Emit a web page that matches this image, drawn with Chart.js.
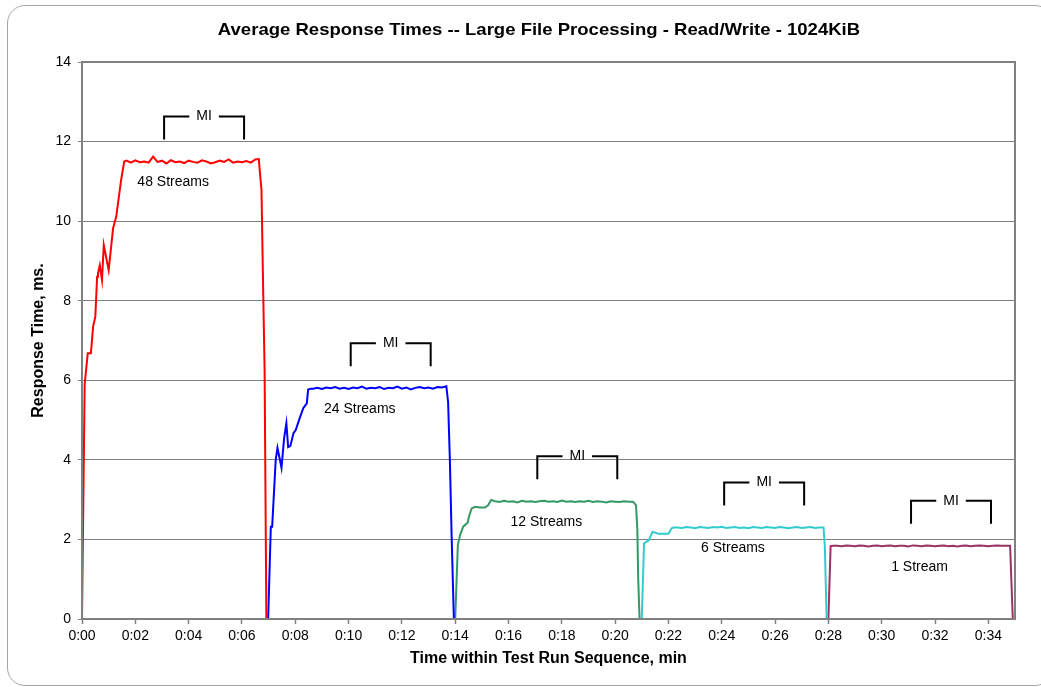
<!DOCTYPE html>
<html>
<head>
<meta charset="utf-8">
<title>Average Response Times</title>
<script src="https://cdn.jsdelivr.net/npm/chart.js@4.4.1/dist/chart.umd.min.js"></script>
<style>
  html, body { margin: 0; padding: 0; background: #fff; overflow: hidden; }
  #wrap { position: relative; width: 1041px; height: 687px; overflow: hidden; }
  #frame {
    position: absolute; left: 7px; top: 5px; width: 1046px; height: 681px;
    border: 1.5px solid #a6a6a6; border-radius: 18px; box-sizing: border-box;
  }
  canvas { position: absolute; left: 0; top: 0; }
</style>
</head>
<body>
<div id="wrap">
  <div id="frame"></div>
  <canvas id="grafico" width="1041" height="687"></canvas>
</div>
<script>
// [seconds into run, response time ms]
const streams48 = [
  [0,0],[6,5.9],[13,6.68],[20,6.68],[25,7.35],[30,7.6],[34,8.6],[36,8.69],[40,8.89],[45,8.52],
  [49,9.4],[60,8.77],[70,9.82],[77,10.11],[88,11.03],[95,11.5],
  [100,11.52],[110,11.47],[120,11.53],[130,11.48],[140,11.5],[150,11.47],[160,11.62],[170,11.49],
  [180,11.52],[190,11.45],[200,11.53],[210,11.48],[220,11.5],[230,11.46],[240,11.52],[250,11.49],
  [260,11.47],[270,11.53],[280,11.5],[290,11.45],[300,11.48],[310,11.52],[320,11.49],[330,11.55],
  [340,11.47],[350,11.5],[360,11.48],[370,11.51],[380,11.47],[390,11.55],[398,11.56],
  [400,11.28],[404,10.78],[407,8.77],[411,6.26],[415,0]
];
const streams24 = [
  [419,0],[425,2.32],[428,2.32],[436,4.0],[440,4.3],[449,3.8],[455,4.55],[460,4.92],[464,4.32],
  [469,4.35],[476,4.67],[481,4.75],[491,5.08],[498,5.3],[506,5.42],[509,5.77],[515,5.79],
  [520,5.79],[530,5.81],[540,5.78],[550,5.82],[560,5.8],[570,5.83],[580,5.79],[590,5.81],
  [600,5.78],[610,5.82],[620,5.8],[630,5.84],[640,5.79],[650,5.81],[660,5.8],[670,5.83],
  [680,5.78],[690,5.81],[700,5.8],[710,5.84],[720,5.79],[730,5.82],[740,5.77],[750,5.81],
  [760,5.83],[770,5.8],[780,5.82],[790,5.79],[800,5.83],[810,5.82],[820,5.85],
  [824,5.46],[828,4.0],[832,2.07],[837,0]
];
const streams12 = [
  [840,0],[846,1.86],[851,2.11],[858,2.32],[868,2.42],[871,2.57],[877,2.78],[885,2.82],
  [895,2.8],[907,2.8],[914,2.86],[921,2.99],
  [930,2.96],[940,2.94],[950,2.97],[960,2.95],[970,2.96],[980,2.93],[990,2.97],[1000,2.95],
  [1010,2.96],[1020,2.94],[1030,2.96],[1040,2.97],[1050,2.95],[1060,2.96],[1070,2.94],[1080,2.98],
  [1090,2.95],[1100,2.96],[1110,2.94],[1120,2.96],[1130,2.95],[1140,2.97],[1150,2.94],[1160,2.96],
  [1170,2.95],[1180,2.93],[1190,2.96],[1200,2.95],[1210,2.94],[1220,2.96],[1230,2.95],[1240,2.95],
  [1247,2.86],[1250,2.24],[1252,0.98],[1255,0]
];
const streams6 = [
  [1260,0],[1265,1.9],[1270,1.94],[1276,1.98],[1284,2.19],[1291,2.17],[1297,2.14],[1320,2.14],
  [1327,2.28],[1332,2.3],
  [1340,2.3],[1350,2.29],[1360,2.31],[1370,2.3],[1380,2.28],[1390,2.31],[1400,2.3],[1410,2.29],
  [1420,2.31],[1430,2.3],[1440,2.32],[1450,2.29],[1460,2.3],[1470,2.31],[1480,2.29],[1490,2.3],
  [1500,2.28],[1510,2.31],[1520,2.3],[1530,2.29],[1540,2.31],[1550,2.3],[1560,2.29],[1570,2.31],
  [1580,2.3],[1590,2.28],[1600,2.3],[1610,2.31],[1620,2.29],[1630,2.3],[1640,2.31],[1650,2.29],
  [1660,2.3],[1669,2.3],
  [1672,1.82],[1676,0]
];
const streams1 = [
  [1680,0],[1685,1.83],[1690,1.84],
  [1700,1.84],[1710,1.83],[1720,1.85],[1730,1.84],[1740,1.83],[1750,1.85],[1760,1.84],[1770,1.82],
  [1780,1.84],[1790,1.85],[1800,1.83],[1810,1.84],[1820,1.85],[1830,1.83],[1840,1.84],[1850,1.84],
  [1860,1.82],[1870,1.85],[1880,1.84],[1890,1.83],[1900,1.85],[1910,1.84],[1920,1.83],[1930,1.84],
  [1940,1.85],[1950,1.83],[1960,1.84],[1970,1.82],[1980,1.84],[1990,1.85],[2000,1.83],[2010,1.84],
  [2020,1.85],[2030,1.84],[2040,1.83],[2050,1.84],[2060,1.85],[2070,1.84],[2080,1.84],
  [2089,1.84],[2095,0]
];

const streamLabels = ['48 Streams', '24 Streams', '12 Streams', '6 Streams', '1 Stream'];
const segmentStart = [0, 7, 14, 21, 28];            // min
const plateauMs    = [11.5, 5.8, 2.96, 2.3, 1.84];  // steady level of each run
const miWindows    = [[3.08, 6.08], [10.08, 13.08], [17.08, 20.08], [24.09, 27.09], [31.1, 34.1]];
const yTicks = [0, 2, 4, 6, 8, 10, 12, 14];
const xTicks = [0, 2, 4, 6, 8, 10, 12, 14, 16, 18, 20, 22, 24, 26, 28, 30, 32, 34];

const chartTitle = 'Average Response Times -- Large File Processing - Read/Write - 1024KiB';
const FONT = '"Liberation Sans", Arial, sans-serif';
const cores = ['#FF0000', '#0000FF', '#339966', '#33CCCC', '#993366'];

const series = [streams48, streams24, streams12, streams6, streams1];

const overlay = {
  id: 'overlay',
  afterDraw(chart) {
    const { ctx, chartArea: a, scales: { x, y } } = chart;
    ctx.save();
    ctx.strokeStyle = '#808080';
    ctx.lineWidth = 2;
    ctx.strokeRect(a.left, a.top, a.right - a.left, a.bottom - a.top);

    ctx.fillStyle = '#000';
    ctx.textAlign = 'center';
    ctx.textBaseline = 'middle';

    // titulo: fonte um pouco esticada na horizontal, como no original
    ctx.save();
    ctx.translate(539, 30);
    ctx.scale(1.09, 1);
    ctx.font = 'bold 17px ' + FONT;
    ctx.fillText(chartTitle, 0, 0);
    ctx.restore();

    ctx.font = '14px ' + FONT;
    ctx.strokeStyle = '#000';
    plateauMs.forEach((lvl, i) => {
      const py = y.getPixelForValue(lvl);
      ctx.fillText(streamLabels[i], x.getPixelForValue(segmentStart[i] + 3.42), py + 21);

      const x0 = x.getPixelForValue(miWindows[i][0]);
      const x1 = x.getPixelForValue(miWindows[i][1]);
      const yb = py - 22, yt = py - 45;
      const xm = (x0 + x1) / 2;
      const half = ctx.measureText('MI').width / 2 + 7;
      ctx.beginPath();
      ctx.moveTo(x0, yb); ctx.lineTo(x0, yt); ctx.lineTo(xm - half, yt);
      ctx.moveTo(xm + half, yt); ctx.lineTo(x1, yt); ctx.lineTo(x1, yb);
      ctx.stroke();
      ctx.fillText('MI', xm, yt);
    });
    ctx.restore();
  }
};

new Chart(document.getElementById('grafico'), {
  type: 'line',
  data: {
    datasets: series.map((s, i) => ({
      label: streamLabels[i],
      data: s.map(p => ({ x: p[0] / 60, y: p[1] })),
      borderColor: cores[i],
      borderWidth: 2,
      pointRadius: 0,
      tension: 0,
      fill: false
    }))
  },
  options: {
    responsive: false,
    animation: false,
    layout: { padding: { left: 28, right: 26, top: 62, bottom: 18 } },
    plugins: { legend: { display: false }, tooltip: { enabled: false }, title: { display: false } },
    scales: {
      x: {
        type: 'linear',
        min: 0,
        max: 35,
        afterBuildTicks: s => { s.ticks = xTicks.map(v => ({ value: v })); },
        afterFit: s => { s.height = 50; },
        ticks: {
          autoSkip: false,
          maxRotation: 0,
          padding: 4,
          color: '#000',
          font: { family: FONT, size: 14 },
          callback: v => '0:' + String(v).padStart(2, '0')
        },
        grid: { drawOnChartArea: false, drawTicks: true, tickLength: 5, tickColor: '#808080', tickWidth: 1.5 },
        border: { display: true, color: '#808080', width: 2 },
        title: {
          display: true,
          text: 'Time within Test Run Sequence, min',
          color: '#000',
          font: { family: FONT, size: 16, weight: 'bold' },
          padding: { top: 0, bottom: 1 }
        }
      },
      y: {
        min: 0,
        max: 14,
        afterBuildTicks: s => { s.ticks = yTicks.map(v => ({ value: v })); },
        afterFit: s => { s.width = 54; },
        ticks: { padding: 7, color: '#000', font: { family: FONT, size: 14 } },
        grid: { color: '#808080', lineWidth: 1, tickLength: 4, tickColor: '#808080' },
        border: { display: true, color: '#808080', width: 2 },
        title: {
          display: true,
          text: 'Response Time, ms.',
          color: '#000',
          font: { family: FONT, size: 16, weight: 'bold' },
          padding: { top: 1, bottom: 0 }
        }
      }
    }
  },
  plugins: [overlay]
});
</script>
</body>
</html>
